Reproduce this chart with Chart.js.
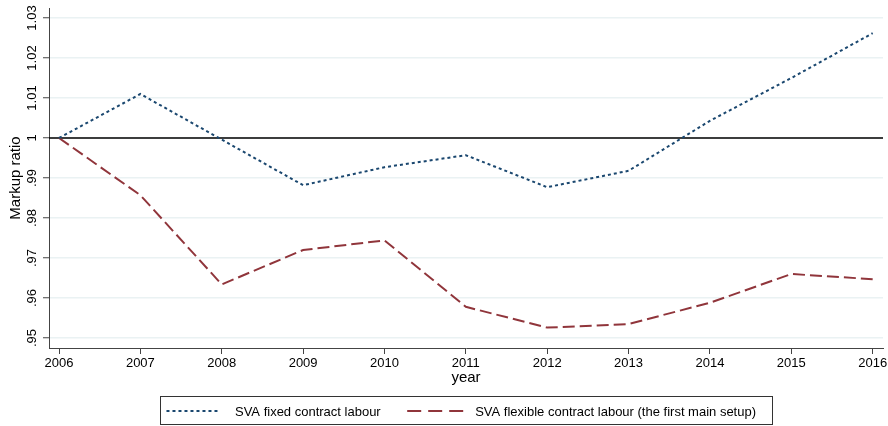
<!DOCTYPE html>
<html>
<head>
<meta charset="utf-8">
<script src="https://cdn.jsdelivr.net/npm/chart.js@4.4.1/dist/chart.umd.min.js"></script>
<style>
  body { margin: 0; background: #fff; }
  #markupChart { display: block; }
</style>
</head>
<body>
<canvas id="markupChart" width="888" height="426"></canvas>
<script>
const years = [2006, 2007, 2008, 2009, 2010, 2011, 2012, 2013, 2014, 2015, 2016];

const fixedLabour = [1.0, 1.011, 0.9996, 0.9882, 0.9927, 0.9957, 0.9877, 0.9918, 1.0043, 1.015, 1.0262];
const flexibleLabour = [1.0, 0.9857, 0.9634, 0.972, 0.9744, 0.9578, 0.9526, 0.9535, 0.9588, 0.966, 0.9647];

const yTicks = [0.95, 0.96, 0.97, 0.98, 0.99, 1.0, 1.01, 1.02, 1.03];
const refValue = 1;

const seriesNames = [
  "SVA fixed contract labour",
  "SVA flexible contract labour (the first main setup)",
];

const FONT = "'Liberation Sans', Arial, sans-serif";

// Stata style: drop the leading zero (.95)
function stataLabel(v) {
  const s = String(Math.round(v * 100) / 100);
  return s.startsWith("0.") ? s.slice(1) : s;
}

const toPoints = (vals) => vals.map((v, i) => ({ x: years[i], y: v }));

// black line at 1
const refLine = {
  id: "refLine",
  beforeDatasetsDraw(chart) {
    const { ctx, chartArea, scales } = chart;
    const y = scales.y.getPixelForValue(refValue);
    ctx.save();
    ctx.strokeStyle = "#000";
    ctx.lineWidth = 1.5;
    ctx.beginPath();
    ctx.moveTo(chartArea.left, y);
    ctx.lineTo(chartArea.right, y);
    ctx.stroke();
    ctx.restore();
  },
};

// rotated y tick labels
const yLabels = {
  id: "yLabels",
  afterDraw(chart) {
    const { ctx, scales } = chart;
    const scale = scales.y;
    ctx.save();
    ctx.font = "13px " + FONT;
    ctx.fillStyle = "#000";
    ctx.textAlign = "center";
    ctx.textBaseline = "alphabetic";
    scale.ticks.forEach((t) => {
      const y = scale.getPixelForValue(t.value);
      ctx.save();
      ctx.translate(35.5, y);
      ctx.rotate(-Math.PI / 2);
      ctx.fillText(stataLabel(t.value), 0, 0);
      ctx.restore();
    });
    ctx.restore();
  },
};

// boxed legend below the axis
const boxLegend = {
  id: "boxLegend",
  afterDraw(chart) {
    const { ctx, chartArea } = chart;
    const ds = chart.data.datasets;
    ctx.save();
    ctx.font = "13px " + FONT;
    const w0 = ctx.measureText(ds[0].label).width;
    const w1 = ctx.measureText(ds[1].label).width;
    const boxW = 6.5 + 54 + 14.5 + w0 + 26.5 + 58 + 10 + w1 + 16;
    const boxL = (chartArea.left + chartArea.right) / 2 - boxW / 2;
    const boxT = 396;
    const boxH = 28;

    ctx.strokeStyle = "#333";
    ctx.lineWidth = 1;
    ctx.strokeRect(Math.round(boxL) + 0.5, boxT + 0.5, Math.round(boxW), boxH);

    const lineY = 411;
    const items = [
      { d: ds[0], sx: boxL + 6.5, sw: 54, tx: boxL + 6.5 + 54 + 14.5 },
    ];
    const x1 = items[0].tx + w0 + 26.5;
    items.push({ d: ds[1], sx: x1, sw: 58, tx: x1 + 58 + 10 });

    items.forEach((it) => {
      ctx.save();
      ctx.strokeStyle = it.d.borderColor;
      ctx.lineWidth = it.d.borderWidth;
      ctx.setLineDash(it.d.legendDash);
      ctx.beginPath();
      ctx.moveTo(it.sx, lineY);
      ctx.lineTo(it.sx + it.sw, lineY);
      ctx.stroke();
      ctx.restore();
      ctx.fillStyle = "#000";
      ctx.textBaseline = "alphabetic";
      ctx.fillText(it.d.label, it.tx, 416);
    });
    ctx.restore();
  },
};

const data = {
  datasets: [
    {
      label: seriesNames[0],
      data: toPoints(fixedLabour),
      borderColor: "#1a476f",
      borderWidth: 2,
      borderDash: [3, 3],
      legendDash: [3, 3],
      pointRadius: 0,
      fill: false,
    },
    {
      label: seriesNames[1],
      data: toPoints(flexibleLabour),
      borderColor: "#90353b",
      borderWidth: 2,
      borderDash: [12, 5],
      legendDash: [14, 7],
      pointRadius: 0,
      fill: false,
    },
  ],
};

const config = {
  type: "line",
  data: data,
  options: {
    responsive: false,
    animation: false,
    devicePixelRatio: 1,
    layout: {
      padding: { top: 8, right: 5, bottom: 34, left: 0 },
    },
    plugins: {
      legend: { display: false },
      tooltip: { enabled: false },
    },
    scales: {
      x: {
        type: "linear",
        min: 2005.877,
        max: 2016.127,
        afterBuildTicks: (scale) => {
          scale.ticks = years.map((v) => ({ value: v }));
        },
        afterFit: (scale) => {
          scale.height = 44;
          scale.paddingLeft = 0;
          scale.paddingRight = 0;
        },
        ticks: {
          color: "#000",
          padding: 2,
          maxRotation: 0,
          autoSkip: false,
          font: { family: FONT, size: 13 },
          callback: (v) => String(v),
        },
        grid: {
          drawOnChartArea: false,
          drawTicks: true,
          tickLength: 6,
          tickColor: "#444",
        },
        border: { color: "#444", width: 1 },
        title: {
          display: true,
          text: "year",
          color: "#000",
          font: { family: FONT, size: 15 },
          padding: { top: 0, bottom: 5 },
        },
      },
      y: {
        type: "linear",
        min: 0.9475,
        max: 1.0325,
        afterBuildTicks: (scale) => {
          scale.ticks = yTicks.map((v) => ({ value: v }));
        },
        afterFit: (scale) => {
          scale.width = 49;
          scale.paddingTop = 0;
          scale.paddingBottom = 0;
        },
        ticks: { display: false },
        grid: {
          color: "#eaf2f3",
          lineWidth: 1.5,
          drawTicks: true,
          tickLength: 6,
          tickColor: "#444",
          tickWidth: 1,
        },
        border: { color: "#444", width: 1 },
        title: {
          display: true,
          text: "Markup ratio",
          color: "#000",
          font: { family: FONT, size: 15 },
          padding: { top: 7, bottom: 0 },
        },
      },
    },
  },
  plugins: [refLine, yLabels, boxLegend],
};

const markupChart = new Chart(document.getElementById("markupChart"), config);
</script>
</body>
</html>
